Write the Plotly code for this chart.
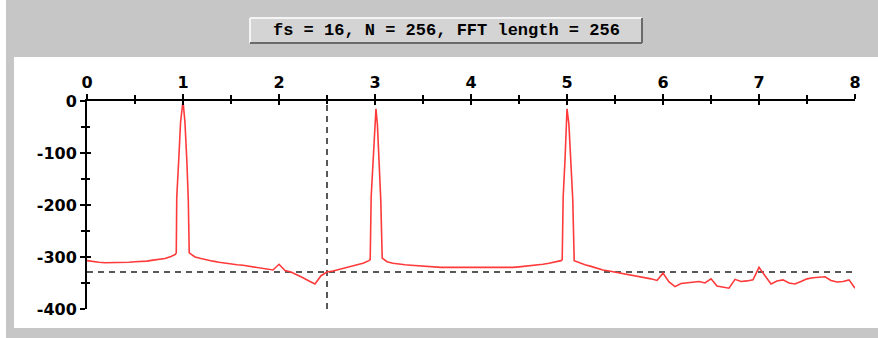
import plotly.graph_objects as go

# ---- data ----
freq = [0.0, 0.0625, 0.125, 0.1875, 0.25, 0.3125, 0.375, 0.4375, 0.5, 0.5625, 0.625, 0.6875, 0.75, 0.8125, 0.875, 0.92,
        0.93, 0.935, 0.955, 0.975, 1.0, 1.02, 1.04, 1.055, 1.065,
        1.125, 1.1875, 1.25, 1.3125, 1.375, 1.4375, 1.5, 1.5625, 1.625, 1.6875, 1.75, 1.8125, 1.875, 1.9375,
        2.0, 2.0625, 2.125, 2.1875, 2.25, 2.3125, 2.375, 2.4375, 2.5, 2.5625, 2.625, 2.6875, 2.75, 2.8125, 2.875, 2.9375,
        2.95, 2.96, 2.98, 2.995, 3.01, 3.025, 3.04, 3.06, 3.075,
        3.125, 3.1875, 3.25, 3.3125, 3.375, 3.4375, 3.5, 3.5625, 3.625, 3.6875, 3.75, 3.8125, 3.875, 3.9375,
        4.0, 4.0625, 4.125, 4.1875, 4.25, 4.3125, 4.375, 4.4375, 4.5, 4.5625, 4.625, 4.6875, 4.75, 4.8125, 4.875, 4.9375,
        4.95, 4.96, 4.98, 4.995, 5.0, 5.02, 5.04, 5.06, 5.075,
        5.125, 5.1875, 5.25, 5.3125, 5.375, 5.4375, 5.5, 5.5625, 5.625, 5.6875, 5.75, 5.8125, 5.875, 5.9375,
        6.0, 6.0625, 6.125, 6.1875, 6.25, 6.3125, 6.375, 6.4375, 6.5, 6.5625, 6.625, 6.6875, 6.75, 6.8125, 6.875, 6.9375,
        7.0, 7.0625, 7.125, 7.1875, 7.25, 7.3125, 7.375, 7.4375, 7.5, 7.5625, 7.625, 7.6875, 7.75, 7.8125, 7.875, 7.9375,
        8.0]
mag_db = [-307, -309, -310, -311, -311, -311, -311, -310, -309, -309, -308, -306, -305, -303, -299, -295,
          -292, -185, -115, -40, 0, -40, -115, -190, -292,
          -300, -303, -306, -308, -310, -312, -313, -315, -316, -318, -320, -321, -323, -325,
          -314, -326, -329, -334, -340, -346, -352, -336, -329, -327, -324, -321, -318, -315, -312, -307,
          -305, -185, -110, -45, -15, -45, -110, -190, -302,
          -309, -312, -314, -315, -316, -317, -318, -319, -319, -320, -320, -320, -321, -321,
          -321, -321, -321, -321, -321, -321, -321, -320, -319, -318, -317, -316, -314, -312, -310, -307,
          -305, -185, -110, -45, -15, -45, -110, -190, -307,
          -311, -315, -318, -322, -325, -327, -329, -332, -334, -336, -338, -340, -342, -345,
          -331, -348, -357, -351, -350, -349, -347, -350, -342, -356, -358, -360, -343, -347, -346, -344,
          -320, -336, -352, -346, -344, -350, -352, -347, -342, -340, -339, -338, -345, -348, -347, -344,
          -360]

x_ticks = [0, 1, 2, 3, 4, 5, 6, 7, 8]
y_ticks = [0, -100, -200, -300, -400]
ref_level_db = -329
ref_freq = 2.5
title_text = "fs = 16, N = 256, FFT length = 256"

# ---- geometry helpers (pixel -> paper) ----
W, H = 878, 338
L, R, T, B = 87, 855, 101, 309


def px(x):
    return (x - L) / (R - L)


def py(y):
    return (B - y) / (B - T)


fig = go.Figure()
fig.add_trace(go.Scatter(x=freq, y=mag_db, mode="lines",
                         line=dict(color="#ff3a3a", width=1.6),
                         hoverinfo="skip", showlegend=False))
# helper invisible trace for overlay axes (crossing ticks)
fig.add_trace(go.Scatter(x=[0, 8], y=[-400, 0], xaxis="x2", yaxis="y2", mode="markers",
                         marker=dict(opacity=0), hoverinfo="skip", showlegend=False))

tickfont = dict(family="DejaVu Sans", size=16, color="black", weight="bold")

fig.update_layout(
    width=W, height=H,
    margin=dict(l=L, r=W - R, t=T, b=H - B, pad=0),
    paper_bgcolor="#c6c6c6",
    plot_bgcolor="white",
    showlegend=False,
    xaxis=dict(range=[0, 8], side="top", tickvals=x_ticks, ticktext=[str(v) for v in x_ticks],
               ticks="outside", ticklen=5, tickwidth=1.5, tickcolor="black",
               minor=dict(dtick=0.5, ticks="outside", ticklen=4, tickwidth=1.5, tickcolor="black"),
               showline=True, linecolor="black", linewidth=2, showgrid=False, zeroline=False,
               tickfont=tickfont, fixedrange=True),
    yaxis=dict(range=[-400, 0], tickvals=y_ticks, ticktext=[str(v) for v in y_ticks],
               ticks="outside", ticklen=5, tickwidth=1.5, tickcolor="black",
               minor=dict(dtick=50, ticks="outside", ticklen=4, tickwidth=1.5, tickcolor="black"),
               showline=True, linecolor="black", linewidth=2, showgrid=False, zeroline=False,
               tickfont=tickfont, fixedrange=True),
    xaxis2=dict(range=[0, 8], overlaying="x", side="top", tickvals=x_ticks, showticklabels=False,
                ticks="inside", ticklen=4, tickwidth=1.5, tickcolor="black",
                minor=dict(dtick=0.5, ticks="inside", ticklen=3, tickwidth=1.5, tickcolor="black"),
                showline=False, showgrid=False, zeroline=False),
    yaxis2=dict(range=[-400, 0], overlaying="y", side="left", tickvals=y_ticks, showticklabels=False,
                ticks="inside", ticklen=4, tickwidth=1.5, tickcolor="black",
                minor=dict(dtick=50, ticks="inside", ticklen=3, tickwidth=1.5, tickcolor="black"),
                showline=False, showgrid=False, zeroline=False),
)

shapes = []
# white strip on far left and white panel
shapes.append(dict(type="rect", xref="paper", yref="paper", x0=px(0), x1=px(6), y0=py(H), y1=py(0),
                   fillcolor="white", line=dict(width=0), layer="below"))
shapes.append(dict(type="rect", xref="paper", yref="paper", x0=px(14), x1=px(W + 2), y0=py(328), y1=py(57),
                   fillcolor="white", line=dict(width=0), layer="below"))
# title box with 3D look
bx0, bx1, by0, by1 = 250, 642, 18, 43
shapes.append(dict(type="rect", xref="paper", yref="paper", x0=px(bx0), x1=px(bx1), y0=py(by1), y1=py(by0),
                   fillcolor="#d4d4d4", line=dict(width=0), layer="below"))
shapes.append(dict(type="line", xref="paper", yref="paper", x0=px(bx0), x1=px(bx1), y0=py(by0), y1=py(by0),
                   line=dict(color="#f4f4f4", width=2), layer="below"))
shapes.append(dict(type="line", xref="paper", yref="paper", x0=px(bx0), x1=px(bx0), y0=py(by0), y1=py(by1),
                   line=dict(color="#f4f4f4", width=2), layer="below"))
shapes.append(dict(type="line", xref="paper", yref="paper", x0=px(bx0), x1=px(bx1), y0=py(by1), y1=py(by1),
                   line=dict(color="#6a6a6a", width=2), layer="below"))
shapes.append(dict(type="line", xref="paper", yref="paper", x0=px(bx1), x1=px(bx1), y0=py(by0), y1=py(by1),
                   line=dict(color="#6a6a6a", width=2), layer="below"))
# dashed reference lines
shapes.append(dict(type="line", xref="x", yref="y", x0=0, x1=8, y0=ref_level_db, y1=ref_level_db,
                   line=dict(color="#222222", width=1.5, dash="6px,5px"), layer="below"))
shapes.append(dict(type="line", xref="x", yref="y", x0=ref_freq, x1=ref_freq, y0=-400, y1=0,
                   line=dict(color="#222222", width=1.5, dash="6px,5px"), layer="below"))
fig.update_layout(shapes=shapes)

fig.add_annotation(xref="paper", yref="paper", x=px((bx0 + bx1) / 2), y=py((by0 + by1) / 2),
                   text=title_text, showarrow=False, xanchor="center", yanchor="middle",
                   font=dict(family="Liberation Mono", size=17, color="black", weight="bold"))

fig.write_html("out.html")
